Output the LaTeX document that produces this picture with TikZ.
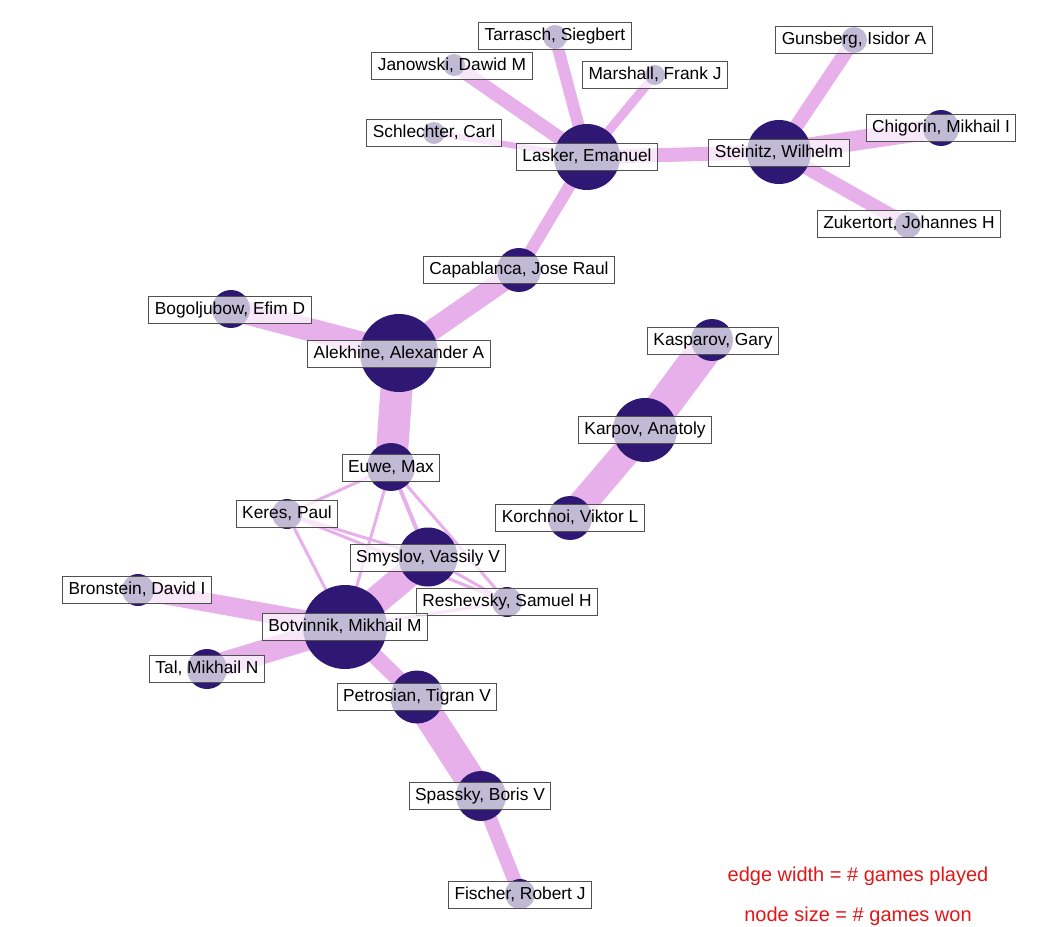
\documentclass[tikz,border=0pt]{standalone}
\usepackage{fontspec}
\setmainfont{Liberation Sans}
\pgfdeclarelayer{bg}
\pgfdeclarelayer{edges}
\pgfsetlayers{bg,edges,main}
\definecolor{edgecol}{RGB}{231,176,235}
\definecolor{nodecol}{RGB}{46,24,116}
\definecolor{boxline}{RGB}{80,80,80}
\definecolor{legred}{RGB}{222,24,24}
\tikzset{
  player/.style={circle, fill=nodecol, draw=none, inner sep=0pt, minimum size={#1*1.5pt}},
  lbl/.style={draw=boxline, line width=0.75pt, fill=white, fill opacity=0.7, text opacity=1,
    font=\fontsize{13pt}{15pt}\selectfont, inner xsep=4.5pt, inner ysep=3.7pt,
    text height=9.6pt, text depth=2.9pt},
  ew/.style={draw=edgecol, line width={#1*0.75pt}},
  legend/.style={text=legred, font=\fontsize{15pt}{18pt}\selectfont, inner sep=0pt}
}
\begin{document}
\begin{tikzpicture}[x=0.75pt,y=-0.75pt]
\begin{pgfonlayer}{bg}
\fill[white] (0,0) rectangle (1057,927);
\end{pgfonlayer}
\useasboundingbox (0,0) rectangle (1057,927);
% players (circles)
\node[player=33] (lasker) at (587,157) {};
\node[player=32] (steinitz) at (779,152) {};
\node[player=18] (chigorin) at (941,128) {};
\node[player=13] (gunsberg) at (854,40) {};
\node[player=13] (zukertort) at (908,225) {};
\node[player=12] (tarrasch) at (555,37) {};
\node[player=11] (janowski) at (454,65) {};
\node[player=10] (marshall) at (655,75) {};
\node[player=11] (schlechter) at (434,133) {};
\node[player=22] (capablanca) at (519,270) {};
\node[player=39] (alekhine) at (399,353) {};
\node[player=19] (bogoljubow) at (231,309) {};
\node[player=24] (euwe) at (391,467) {};
\node[player=15] (keres) at (287,514) {};
\node[player=29.5] (smyslov) at (428,557) {};
\node[player=15] (reshevsky) at (507,602) {};
\node[player=42] (botvinnik) at (345,627) {};
\node[player=16] (bronstein) at (138,590) {};
\node[player=20] (tal) at (207,669) {};
\node[player=26.5] (petrosian) at (417,697) {};
\node[player=25] (spassky) at (481,796) {};
\node[player=15] (fischer) at (520,894) {};
\node[player=21] (kasparov) at (712,340) {};
\node[player=32] (karpov) at (645,430) {};
\node[player=22] (korchnoi) at (570,518) {};
% edges
\begin{pgfonlayer}{edges}
\draw[ew=14] (lasker.center) -- (steinitz.center);
\draw[ew=12] (lasker.center) -- (tarrasch.center);
\draw[ew=14] (lasker.center) -- (janowski.center);
\draw[ew=9] (lasker.center) -- (marshall.center);
\draw[ew=6] (lasker.center) -- (schlechter.center);
\draw[ew=12] (lasker.center) -- (capablanca.center);
\draw[ew=14] (steinitz.center) -- (gunsberg.center);
\draw[ew=20] (steinitz.center) -- (chigorin.center);
\draw[ew=14] (steinitz.center) -- (zukertort.center);
\draw[ew=21] (capablanca.center) -- (alekhine.center);
\draw[ew=23] (alekhine.center) -- (bogoljubow.center);
\draw[ew=32] (alekhine.center) -- (euwe.center);
\draw[ew=3] (euwe.center) -- (keres.center);
\draw[ew=4] (euwe.center) -- (smyslov.center);
\draw[ew=3] (euwe.center) -- (reshevsky.center);
\draw[ew=3] (euwe.center) -- (botvinnik.center);
\draw[ew=3] (keres.center) -- (smyslov.center);
\draw[ew=3] (keres.center) -- (reshevsky.center);
\draw[ew=3] (keres.center) -- (botvinnik.center);
\draw[ew=3] (smyslov.center) -- (reshevsky.center);
\draw[ew=3] (botvinnik.center) -- (reshevsky.center);
\draw[ew=28] (botvinnik.center) -- (smyslov.center);
\draw[ew=19] (botvinnik.center) -- (bronstein.center);
\draw[ew=24] (botvinnik.center) -- (tal.center);
\draw[ew=16] (botvinnik.center) -- (petrosian.center);
\draw[ew=30] (petrosian.center) -- (spassky.center);
\draw[ew=14] (spassky.center) -- (fischer.center);
\draw[ew=34] (kasparov.center) -- (karpov.center);
\draw[ew=28] (karpov.center) -- (korchnoi.center);
\end{pgfonlayer}
% labels
\node[lbl] (l-tarrasch) at (555,36) {Tarrasch, Siegbert};
\node[lbl] (l-janowski) at (452,66) {Janowski, Dawid M};
\node[lbl] (l-marshall) at (655,75) {Marshall, Frank J};
\node[lbl] (l-schlechter) at (434,133) {Schlechter, Carl};
\node[lbl] (l-lasker) at (587,157) {Lasker, Emanuel};
\node[lbl] (l-gunsberg) at (854,40) {Gunsberg, Isidor A};
\node[lbl] (l-chigorin) at (941,128) {Chigorin, Mikhail I};
\node[lbl] (l-steinitz) at (779,153) {Steinitz, Wilhelm};
\node[lbl] (l-zukertort) at (909,224) {Zukertort, Johannes H};
\node[lbl] (l-capablanca) at (519,270) {Capablanca, Jose Raul};
\node[lbl] (l-bogoljubow) at (230,310) {Bogoljubow, Efim D};
\node[lbl] (l-alekhine) at (399,354) {Alekhine, Alexander A};
\node[lbl] (l-kasparov) at (713,341) {Kasparov, Gary};
\node[lbl] (l-karpov) at (645,430) {Karpov, Anatoly};
\node[lbl] (l-korchnoi) at (570,518) {Korchnoi, Viktor L};
\node[lbl] (l-euwe) at (391,468) {Euwe, Max};
\node[lbl] (l-keres) at (287,514) {Keres, Paul};
\node[lbl] (l-smyslov) at (428,558) {Smyslov, Vassily V};
\node[lbl] (l-reshevsky) at (507,602) {Reshevsky, Samuel H};
\node[lbl] (l-botvinnik) at (345,627) {Botvinnik, Mikhail M};
\node[lbl] (l-bronstein) at (137,590) {Bronstein, David I};
\node[lbl] (l-tal) at (207,669) {Tal, Mikhail N};
\node[lbl] (l-petrosian) at (417,697) {Petrosian, Tigran V};
\node[lbl] (l-spassky) at (480,796) {Spassky, Boris V};
\node[lbl] (l-fischer) at (520,895) {Fischer, Robert J};
% legend
\node[legend] (leg1) at (858,876) {edge width = \# games played};
\node[legend] (leg2) at (858,916) {node size = \# games won};
\end{tikzpicture}
\end{document}
